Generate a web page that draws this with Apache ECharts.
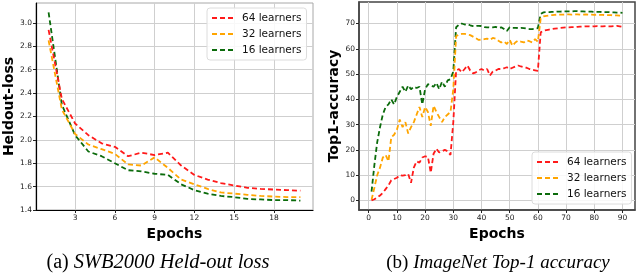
<!DOCTYPE html>
<html><head><meta charset="utf-8">
<script src="https://cdn.jsdelivr.net/npm/echarts@6/dist/echarts.min.js"></script>
<style>html,body{margin:0;padding:0;background:#fff}#c{width:640px;height:273px}</style>
</head><body><div id="c"></div>
<script>
// ---- Data: (a) SWB2000 held-out loss ----
const epochsA = [1,2,3,4,5,6,7,8,9,10,11,12,13,14,15,16,17,18,19,20];
const lossA64 = [2.94,2.35,2.14,2.04,1.97,1.94,1.86,1.89,1.87,1.89,1.78,1.70,1.66,1.63,1.61,1.59,1.58,1.575,1.57,1.565];
const lossA32 = [2.85,2.26,2.05,1.96,1.92,1.88,1.79,1.78,1.85,1.76,1.66,1.62,1.58,1.55,1.54,1.53,1.52,1.515,1.51,1.51];
const lossA16 = [3.09,2.30,2.04,1.90,1.86,1.80,1.74,1.73,1.71,1.70,1.62,1.57,1.54,1.52,1.51,1.495,1.49,1.485,1.485,1.48];
const ticksAx = [3,6,9,12,15,18];
const ticksAy = [1.4,1.6,1.8,2.0,2.2,2.4,2.6,2.8,3.0];

// ---- Data: (b) ImageNet top-1 accuracy ----
const epochsB = []; for (let e = 1; e <= 90; e++) epochsB.push(e);
const accB64 = [0,0.5,1.2,2,3,4.5,6,8,8.5,9,
  10,9.8,10,10.5,7,13,15.5,15,17,17.5,
  17.3,11,18.5,20.5,19,19.5,20,19.5,18,31,
  51.4,52,50.7,52,53.4,51.4,50.3,50.7,51.5,52,
  51.4,52,49.4,51,51.4,52,52,52.3,52.7,52,
  52.5,53,53.4,53,52.7,52.5,52,51.7,51.5,51.3,
  66.5,67.1,67.4,67.6,67.8,68,68.1,68.3,68.4,68.5,
  68.5,68.6,68.6,68.7,68.8,68.8,68.9,68.9,68.8,68.9,
  69,68.9,68.9,69,68.9,68.9,69,69.1,68.9,68.7];
const accB32 = [0.3,5,10,13,17,18,15.5,25,26,28,
  32,29,31,26.5,29,31,34,37,33,37,
  35,29.5,37.5,35,33,31,33,34,35,44,
  65,65.6,65.9,65.9,65.6,65.4,64.8,64.2,63.5,63.6,
  63.8,64,63.5,64.3,64,63.2,62.5,62.9,61.9,63.5,
  61.2,62.5,63.2,62.8,62.5,63.3,63,62.5,63.8,62.8,
  72,72.8,73,73.2,73.3,73.4,73.5,73.5,73.5,73.6,
  73.6,73.5,73.6,73.6,73.5,73.5,73.6,73.5,73.5,73.4,
  73.5,73.4,73.4,73.3,73.3,73.3,73.2,73.2,73.1,73];
const accB16 = [3.5,14,23,29,34,37,38,40,38,41,
  43,45,43,45.5,44,45,44.5,45,38,44,
  46,45.5,45,46.5,44,47,45,47.5,48,51,
  68.5,69.5,70,69.6,69.8,69.3,69,69,69.1,69,
  68.6,68.5,68.4,68.5,68.7,68.3,68.5,67.8,67,68.5,
  68.3,68.3,68.2,68.3,68.2,68,67.8,67.8,68,68.2,
  73.8,74.4,74.5,74.5,74.6,74.6,74.7,74.7,74.8,74.8,
  74.8,74.8,74.9,74.9,74.8,74.8,74.7,74.7,74.7,74.6,
  74.6,74.6,74.5,74.5,74.5,74.4,74.4,74.3,74.3,74.2];
const ticksBx = [0,10,20,30,40,50,60,70,80,90];
const ticksBy = [0,10,20,30,40,50,60,70];

const names = ['64 learners','32 learners','16 learners'];
const colors = ['#ff1a1a','#ffa500','#0b6b0b'];

const pairs = (xs, ys) => xs.map((x, i) => [x, ys[i]]);
const font = 'DejaVu Sans';

function mkX(idx, min, max, ticks, spineColor, sw) {
  return {
    type: 'value', gridIndex: idx, min: min, max: max,
    name: 'Epochs', nameLocation: 'middle', nameGap: 16,
    nameTextStyle: {fontFamily: font, fontWeight: 'bold', fontSize: 14, color: '#000'},
    axisLine: {show: true, onZero: false, lineStyle: {color: spineColor, width: sw}},
    axisTick: {show: true, length: 3, customValues: ticks, lineStyle: {color: '#222'}},
    axisLabel: {customValues: ticks, fontFamily: font, fontSize: 7.5, color: '#222', margin: 4},
    splitLine: {show: true, lineStyle: {color: '#cfcfcf', width: 1}}
  };
}
function mkY(idx, min, max, ticks, title, gap, spineColor, sw, fmt) {
  return {
    type: 'value', gridIndex: idx, min: min, max: max,
    name: title, nameLocation: 'middle', nameGap: gap,
    nameTextStyle: {fontFamily: font, fontWeight: 'bold', fontSize: 14, color: '#000'},
    axisLine: {show: true, onZero: false, lineStyle: {color: spineColor, width: sw}},
    axisTick: {show: true, length: 3, customValues: ticks, lineStyle: {color: '#222'}},
    axisLabel: {customValues: ticks, fontFamily: font, fontSize: 7.5, color: '#222', margin: 4, formatter: fmt},
    splitLine: {show: true, lineStyle: {color: '#cfcfcf', width: 1}}
  };
}

const series = [];
const dataA = [lossA64, lossA32, lossA16];
const dataB = [accB64, accB32, accB16];
for (let i = 0; i < 3; i++) {
  series.push({type: 'line', name: names[i], xAxisIndex: 0, yAxisIndex: 0, data: pairs(epochsA, dataA[i]),
    symbol: 'none', lineStyle: {color: colors[i], width: 1.8, type: [5, 3]}, itemStyle: {color: colors[i]}, z: 10 - i});
}
for (let i = 0; i < 3; i++) {
  series.push({type: 'line', name: names[i], xAxisIndex: 1, yAxisIndex: 1, data: pairs(epochsB, dataB[i]),
    symbol: 'none', lineStyle: {color: colors[i], width: 1.8, type: [5, 3]}, itemStyle: {color: colors[i]}, z: 10 - i});
}

const legendCommon = {
  orient: 'vertical', itemWidth: 23, itemHeight: 8, itemGap: 4, padding: [4, 5, 4, 4],
  backgroundColor: 'rgba(255,255,255,0.85)', borderColor: '#dcdcdc', borderWidth: 1, borderRadius: 3,
  itemStyle: {opacity: 0},
  textStyle: {fontFamily: font, fontSize: 10.5, color: '#111', lineHeight: 12, padding: [0, 0, 0, 2]},
  data: names, selectedMode: false
};

const chart = echarts.init(document.getElementById('c'), null, {renderer: 'canvas'});
chart.setOption({
  animation: false,
  grid: [
    {left: 36, top: 3, width: 277, height: 207, show: true, borderColor: '#a8a8a8', borderWidth: 1},
    {left: 359, top: 2, width: 276, height: 208, show: true, borderColor: '#444', borderWidth: 1.5}
  ],
  xAxis: [
    mkX(0, 0.05, 20.95, ticksAx, '#000', 1.2),
    mkX(1, -3.45, 94.45, ticksBx, '#444', 1.5)
  ],
  yAxis: [
    mkY(0, 1.4, 3.17, ticksAy, 'Heldout-loss', 20, '#000', 1.2, v => v.toFixed(1)),
    mkY(1, -3.75, 78.5, ticksBy, 'Top1-accuracy', 17, '#444', 1.5, v => String(v))
  ],
  legend: [
    Object.assign({}, legendCommon, {left: 207, top: 8}),
    Object.assign({}, legendCommon, {left: 532, top: 152})
  ],
  series: series,
  graphic: [
    {type: 'text', style: {
      x: 158, y: 263, align: 'center', verticalAlign: 'middle',
      text: '{n|(a) }{i|SWB2000 Held-out loss}',
      rich: {n: {fontFamily: 'Liberation Serif', fontSize: 20, fill: '#000'},
             i: {fontFamily: 'Liberation Serif', fontStyle: 'italic', fontSize: 20.5, fill: '#000'}}
    }},
    {type: 'text', style: {
      x: 498, y: 263, align: 'center', verticalAlign: 'middle',
      text: '{n|(b) }{i|ImageNet Top-1 accuracy}',
      rich: {n: {fontFamily: 'Liberation Serif', fontSize: 19, fill: '#000'},
             i: {fontFamily: 'Liberation Serif', fontStyle: 'italic', fontSize: 19, fill: '#000'}}
    }}
  ]
});
</script></body></html>
